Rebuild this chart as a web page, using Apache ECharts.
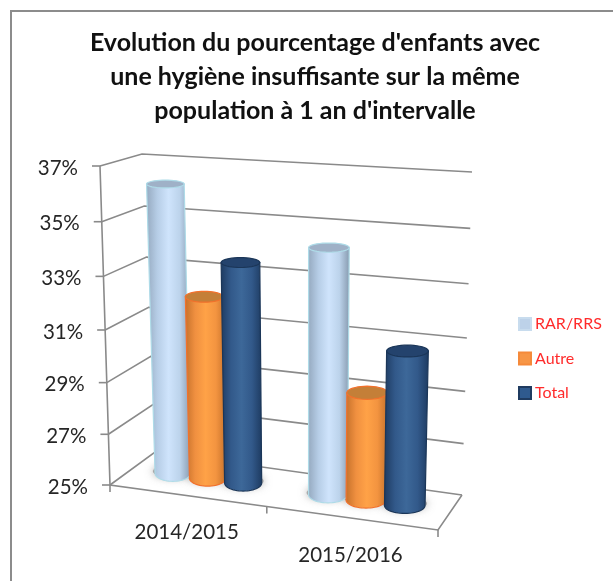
<!DOCTYPE html>
<html>
<head>
<meta charset="utf-8">
<style>html,body{margin:0;padding:0;background:#fff}#c{width:613px;height:581px}</style>
<script src="https://cdn.jsdelivr.net/npm/echarts@6/dist/echarts.min.js"></script>
</head>
<body>
<div id="c"></div>
<script>
const categories = ['2014/2015', '2015/2016'];
const rarRrs = [36.2, 34.3];
const autre = [32.1, 29.1];
const total = [33.5, 30.8];
const valueTicks = [25, 27, 29, 31, 33, 35, 37];
const tickLabels = ['25%', '27%', '29%', '31%', '33%', '35%', '37%'];
const titleText = "Evolution du pourcentage d'enfants avec\nune hygiène insuffisante sur la même\npopulation à 1 an d'intervalle";

/* scene geometry of the 3D box */
const FONT = 'Lato, Carlito, "Open Sans", sans-serif';
const C = {
  bottom: { fl: [110, 485], fr: [438, 530], bl: [155, 452], br: [462, 495] },
  top: { fl: [100, 166], fr: [450, 187], bl: [142, 154], br: [472, 172] }
};
const lerp = (a, b, k) => a + (b - a) * k;
const persV = t => t / (1.058 - 0.058 * t);
const persU = u => u / (1.092 - 0.092 * u);

function normal(cs, px, py) {
  return [persU((px - cs.x) / cs.width), persV((cs.y + cs.height - py) / cs.height)];
}
function corner(u, w, t) {
  const pl = k => lerp(
    lerp(lerp(C.bottom.fl[k], C.bottom.fr[k], u), lerp(C.bottom.bl[k], C.bottom.br[k], u), w),
    lerp(lerp(C.top.fl[k], C.top.fr[k], u), lerp(C.top.bl[k], C.top.br[k], u), w), t);
  return [pl(0), pl(1)];
}
function wallLine(t, strokeOpts) {
  return [
    { type: 'polyline', z2: -5, shape: { points: [corner(0, 0, t), corner(0, 1, t), corner(1, 1, t)] }, style: strokeOpts },
  ];
}

const LINE = { stroke: '#8a8a8a', lineWidth: 1.6, fill: null };

function renderTick(params, api) {
  const cs = params.coordSys;
  const p = api.coord([0, api.value(1)]);
  const [, t] = normal(cs, cs.x, p[1]);
  const a = corner(0, 0, t);
  const kids = wallLine(t, LINE);
  kids.push({ type: 'line', z2: -5, shape: { x1: a[0] - 8, y1: a[1], x2: a[0], y2: a[1] }, style: LINE });
  kids.push({
    type: 'text', z2: 10,
    style: { text: tickLabels[params.dataIndex], x: a[0] - 22, y: a[1] + 2, align: 'right', verticalAlign: 'middle',
      fill: '#262626', font: '20.5px ' + FONT }
  });
  return { type: 'group', children: kids };
}

function renderCategory(params, api) {
  const cs = params.coordSys;
  const i = api.value(0);
  const band = api.size([1, 0])[0];
  const p = api.coord([i, 25]);
  const [u] = normal(cs, p[0], p[1]);
  const a = corner(u, 0, 0);
  const kids = [{
    type: 'text', z2: 10,
    style: { text: categories[i], x: a[0], y: a[1] + 37, align: 'center', verticalAlign: 'middle',
      fill: '#262626', font: '20.5px ' + FONT }
  }];
  const edgeU = persU((p[0] + band / 2 - cs.x) / cs.width);
  const e = corner(edgeU, 0, 0);
  kids.push({ type: 'line', z2: -5, shape: { x1: e[0], y1: e[1], x2: e[0], y2: e[1] + 7 }, style: LINE });
  if (i === 0) {
    kids.push({ type: 'line', z2: -5, shape: { x1: C.bottom.fl[0], y1: C.bottom.fl[1], x2: C.bottom.fl[0], y2: C.bottom.fl[1] + 7 }, style: LINE });
    kids.push({ type: 'polyline', z2: -5, shape: { points: [C.top.fl, C.bottom.fl, C.bottom.fr, C.bottom.br] }, style: LINE });
  }
  return { type: 'group', children: kids };
}

const palettes = [
  { stops: ['#94a8be', '#b6cde6', '#cfe4fc', '#bcd3eb', '#8598ad'], stroke: '#aedbe8', cap: '#9fb1c7', capStroke: '#aedbe8', legend: '#bdd2e9', legendB: '#c8dcee' },
  { stops: ['#c4702a', '#f09040', '#ffa247', '#f39440', '#c4702a'], stroke: '#f2712c', cap: '#c47f38', capStroke: '#f2712c', legend: '#f79646', legendB: '#f58a3a' },
  { stops: ['#1d3a60', '#32598a', '#3d6899', '#32598a', '#1d3a60'], stroke: '#1b3658', cap: '#24436d', capStroke: '#1b3658', legend: '#2f5a8e', legendB: '#1f3b60' }
];

function makeBar(sIdx) {
  return function (params, api) {
    const cs = params.coordSys;
    const i = api.value(0);
    const band = api.size([1, 0])[0];
    const top = api.coord([i, api.value(1)]);
    const off = (sIdx - 1) * 0.232 * band;
    const half = 0.12 * band;
    const [uc, t] = normal(cs, top[0] + off, top[1]);
    const ul = persU((top[0] + off - half - cs.x) / cs.width);
    const ur = persU((top[0] + off + half - cs.x) / cs.width);
    const W = 0.52;
    const at = (u, tt) => {
      const base = corner(u, W, 0);
      const upper = lerp(123, 459, u);
      return [lerp(base[0], upper, tt), corner(u, W, tt)[1]];
    };
    const bL = at(ul, 0), bR = at(ur, 0), tL = at(ul, t), tR = at(ur, t);
    const bCy = at(uc, 0)[1], tCy = at(uc, t)[1];
    const ryB = 8, ryT = lerp(8, 3.6, t);
    const arc = (cx, cy, rx, ry, from, to, n) => {
      const out = [];
      for (let k = 0; k <= n; k++) {
        const ang = lerp(from, to, k / n);
        out.push([cx + rx * Math.cos(ang), cy + ry * Math.sin(ang)]);
      }
      return out;
    };
    const bcx = (bL[0] + bR[0]) / 2, brx = (bR[0] - bL[0]) / 2;
    const tcx = (tL[0] + tR[0]) / 2, trx = (tR[0] - tL[0]) / 2;
    const pal = palettes[sIdx];
    const body = [[tL[0], tCy]].concat(arc(bcx, bCy, brx, ryB, Math.PI, 0, 28)).concat([[tR[0], tCy]]);
    const n = pal.stops.length;
    return {
      type: 'group',
      children: [
        {
          type: 'polygon', z2: -1,
          shape: { points: arc(bcx, bCy - 2, brx + 2, ryB - 1.5, 0, Math.PI * 2, 40) },
          style: { fill: 'rgba(130,130,130,0.6)', shadowBlur: 9, shadowColor: 'rgba(100,100,100,1)' }
        },
        {
          type: 'polygon', z2: sIdx * 2 + 1,
          shape: { points: body },
          style: {
            fill: { type: 'linear', x: 0, y: 0, x2: 1, y2: 0,
              colorStops: pal.stops.map((c, k) => ({ offset: k / (n - 1), color: c })) },
            stroke: pal.stroke, lineWidth: 1.2
          }
        },
        {
          type: 'polygon', z2: sIdx * 2 + 2,
          shape: { points: arc(tcx, tCy, trx, ryT, 0, Math.PI * 2, 40) },
          style: { fill: pal.cap, stroke: pal.capStroke, lineWidth: 1.2 }
        }
      ]
    };
  };
}

const seriesValues = [rarRrs, autre, total];
const seriesNames = ['RAR/RRS', 'Autre', 'Total'];

const chart = echarts.init(document.getElementById('c'), null, { renderer: 'canvas' });
chart.setOption({
  animation: false,
  backgroundColor: '#fff',
  title: {
    text: titleText, left: 310, top: 21, textAlign: 'center',
    textStyle: { fontFamily: FONT, fontWeight: 'bold', fontSize: 25, lineHeight: 34, color: '#111' }
  },
  graphic: [{
    type: 'polyline', silent: true,
    shape: { points: [[11, 581], [11, 11], [613, 11]] },
    style: { stroke: '#8c8c8c', lineWidth: 2, fill: null }
  }],
  legend: {
    data: seriesNames, orient: 'vertical', left: 518, top: 316, padding: 0, icon: 'rect',
    itemWidth: 12, itemHeight: 12, itemGap: 18.5, selectedMode: false,
    textStyle: { color: '#ff2b2b', fontFamily: FONT, fontSize: 16, padding: [0, 0, 0, -1] }
  },
  grid: { left: 110, top: 166, width: 328, height: 319 },
  xAxis: { type: 'category', data: categories, show: false },
  yAxis: { type: 'value', min: 25, max: 37, interval: 2, show: false },
  series: [
    { type: 'custom', name: 'ticks', renderItem: renderTick, silent: true, encode: { x: 0, y: 1 },
      data: valueTicks.map(v => [0, v]) },
    { type: 'custom', name: 'categories', renderItem: renderCategory, silent: true, encode: { x: 0, y: 1 },
      data: categories.map((c, i) => [i, 25]) }
  ].concat(seriesNames.map((name, s) => ({
    type: 'custom', name, renderItem: makeBar(s), silent: true, encode: { x: 0, y: 1 },
    itemStyle: { color: palettes[s].legend, borderColor: palettes[s].legendB, borderWidth: 1 },
    data: seriesValues[s].map((v, i) => [i, v])
  })))
});
</script>
</body>
</html>
